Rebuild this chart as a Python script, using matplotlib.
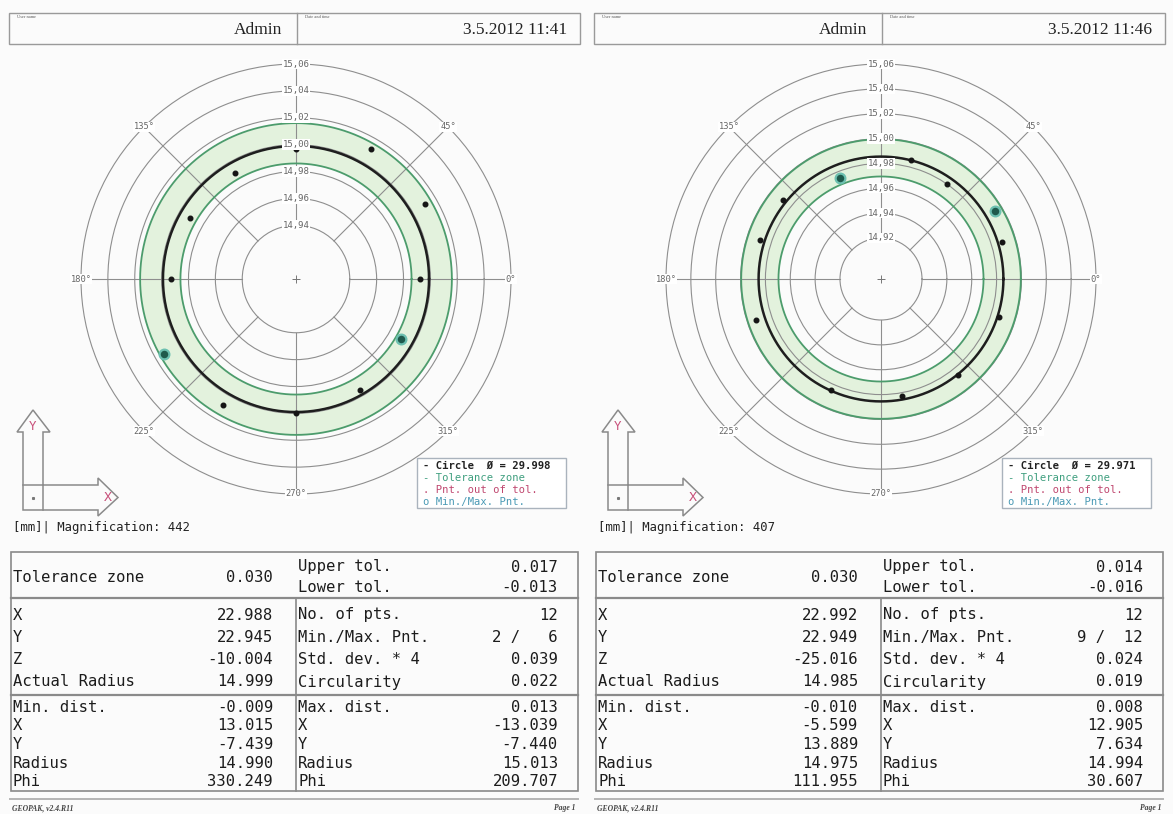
import numpy as np
import matplotlib
matplotlib.use("Agg")
import matplotlib.pyplot as plt
from matplotlib.patches import Polygon, Rectangle

# ---------------------------------------------------------------- data
# Report 1 (left sheet)
user_1 = "Admin"
stamp_1 = "3.5.2012 11:41"
magnification_1 = 442
diameter_1 = 29.998
tol_zone_1 = "0.030"
upper_tol_1 = 0.017
lower_tol_1 = -0.013
ring_values_1 = [14.94, 14.96, 14.98, 15.00, 15.02, 15.04, 15.06]
r_center_1 = 14.90
# measured points, numbered clockwise from 0 deg
pt_angle_1 = [0, 330.249, 300, 270, 240, 209.707, 180, 150, 120, 90, 60, 30]
pt_radius_1 = [14.992, 14.990, 14.995, 15.000, 15.008, 15.013,
               14.993, 14.991, 14.991, 14.997, 15.012, 15.011]
min_pnt_1 = 2
max_pnt_1 = 6
center_values_1 = ["22.988", "22.945", "-10.004", "14.999"]
stats_values_1 = ["12", "0.039", "0.022"]
min_block_1 = ["-0.009", "13.015", "-7.439"]
max_block_1 = ["0.013", "-13.039", "-7.440"]

# Report 2 (right sheet)
user_2 = "Admin"
stamp_2 = "3.5.2012 11:46"
magnification_2 = 407
diameter_2 = 29.971
tol_zone_2 = "0.030"
upper_tol_2 = 0.014
lower_tol_2 = -0.016
ring_values_2 = [14.92, 14.94, 14.96, 14.98, 15.00, 15.02, 15.04, 15.06]
r_center_2 = 14.887
pt_angle_2 = [17, 342, 309, 280, 246, 198, 162, 141, 111.955, 76, 55, 30.607]
pt_radius_2 = [14.989, 14.987, 14.986, 14.983, 14.985, 14.993,
               14.989, 14.988, 14.975, 14.986, 14.980, 14.994]
min_pnt_2 = 9
max_pnt_2 = 12
center_values_2 = ["22.992", "22.949", "-25.016", "14.985"]
stats_values_2 = ["12", "0.024", "0.019"]
min_block_2 = ["-0.010", "-5.599", "13.889"]
max_block_2 = ["0.008", "12.905", "7.634"]

center_labels = ["X", "Y", "Z", "Actual Radius"]
stats_labels = ["No. of pts.", "Min./Max. Pnt.", "Std. dev. * 4", "Circularity"]
dist_labels = ["X", "Y", "Radius", "Phi"]
angle_labels = [0, 45, 135, 180, 225, 270, 315]

# ---------------------------------------------------------------- styling
W, H = 1173, 814
MONO = "DejaVu Sans Mono"
SERIF = "Liberation Serif"
GRID = "#8e8e8e"
BAND_FILL = "#e3f2dd"
BAND_EDGE = "#4c9c6c"
ICON = "#8a8a8a"
PINK = "#c8507a"

fig = plt.figure(figsize=(W / 100, H / 100), dpi=100)
fig.patch.set_facecolor("#fbfbfb")
page = fig.add_axes([0, 0, 1, 1])
page.set_xlim(0, W)
page.set_ylim(H, 0)
page.axis("off")


def polar_panel(cx, cy, r_center, rings, diameter, upper, lower,
                angles, radii, i_min, i_max):
    R = 215
    ax = fig.add_axes([(cx - R) / W, 1 - (cy + R) / H, 2 * R / W, 2 * R / H],
                      projection="polar")
    ax.set_facecolor("none")
    ax.set_ylim(r_center, rings[-1])
    ax.set_yticks(rings[:-1])
    ax.set_yticklabels([])
    ax.set_xticks([])
    ax.yaxis.grid(True, color=GRID, lw=0.8)
    ax.spines["polar"].set_color(GRID)
    ax.spines["polar"].set_linewidth(0.8)

    r_act = diameter / 2
    full = np.linspace(0, 2 * np.pi, 721)
    lo = np.full_like(full, r_act + lower)
    hi = np.full_like(full, r_act + upper)
    ax.fill_between(full, lo, hi, color=BAND_FILL, lw=0, zorder=1)
    ax.plot(full, lo, color=BAND_EDGE, lw=1.3, zorder=3)
    ax.plot(full, hi, color=BAND_EDGE, lw=1.3, zorder=3)
    ax.plot(full, np.full_like(full, r_act), color="#1e1e1e", lw=1.8, zorder=3)

    # spokes from the innermost ring to the rim
    for deg in range(0, 360, 45):
        t = np.deg2rad(deg)
        ax.plot([t, t], [rings[0], rings[-1]], color=GRID, lw=0.8,
                zorder=2, clip_on=False)
    ax.plot([0], [r_center], marker="+", ms=6, mew=0.7, color="#777777")

    th = np.deg2rad(angles)
    ax.plot(th, radii, "o", ms=3.3, color="#151515", zorder=4)
    for i in (i_min - 1, i_max - 1):
        ax.plot(th[i], radii[i], "o", ms=7, mfc="#1f5a4c", mec="#6cc0b0",
                mew=1.6, zorder=5)

    for v in rings:
        ax.text(np.pi / 2, v, f"{v:.2f}".replace(".", ","), ha="center",
                va="center", fontsize=6.5, family=MONO, color="#666666",
                zorder=6, bbox=dict(fc="white", ec="none", pad=0.5))
    for deg in angle_labels:
        ax.text(np.deg2rad(deg), rings[-1], f"{deg}°", ha="center",
                va="center", fontsize=6.3, family=MONO, color="#666666",
                zorder=6, bbox=dict(fc="white", ec="none", pad=0.5))
    return ax


def sheet(x0, user, stamp, mag, diameter, tol_zone, upper, lower, rings,
          r_center, angles, radii, i_min, i_max, cvals, svals, mins, maxs):
    # header
    page.add_patch(Rectangle((x0, 13), 571, 31, fill=False, ec="#9a9a9a", lw=1))
    page.plot([x0 + 288, x0 + 288], [13, 44], color="#9a9a9a", lw=1)
    page.text(x0 + 8, 16.5, "User name", fontsize=3.2, family=SERIF,
              color="#555555", va="center")
    page.text(x0 + 296, 16.5, "Date and time", fontsize=3.2, family=SERIF,
              color="#555555", va="center")
    page.text(x0 + 273, 30, user, fontsize=12.5, family=SERIF, ha="right",
              va="center", color="#222222")
    page.text(x0 + 558, 30, stamp, fontsize=12.5, family=SERIF, ha="right",
              va="center", color="#222222")

    # polar diagram
    polar_panel(x0 + 287, 279, r_center, rings, diameter, upper, lower,
                angles, radii, i_min, i_max)

    # coordinate icon
    bx, by = x0 + 14, 510
    outline = [(bx, by), (bx, by - 78), (bx - 6, by - 78), (bx + 10, by - 100),
               (bx + 27, by - 78), (bx + 20, by - 78), (bx + 20, by - 25),
               (bx + 75, by - 25), (bx + 75, by - 32), (bx + 95, by - 12.5),
               (bx + 75, by + 6), (bx + 75, by)]
    page.add_patch(Polygon(outline, closed=True, fill=False, ec=ICON, lw=1.1))
    page.plot([bx, bx + 20], [by - 25, by - 25], color=ICON, lw=1.1)
    page.plot([bx + 20, bx + 20], [by - 25, by], color=ICON, lw=1.1)
    page.plot([bx + 10], [by - 12.5], "s", ms=1.2, color="#777777")
    page.text(bx + 10, by - 83, "Y", fontsize=9, family=MONO, color=PINK,
              ha="center", va="center")
    page.text(bx + 85, by - 12.5, "X", fontsize=9.5, family=MONO, color=PINK,
              ha="center", va="center")
    page.text(x0 + 4, 528, f"[mm]| Magnification: {mag}", fontsize=8.8,
              family=MONO, color="#222222", va="center")

    # legend
    lx, ly = x0 + 408, 458
    page.add_patch(Rectangle((lx, ly), 149, 50, fc="white", ec="#aab3bd", lw=1))
    legend_rows = [(f"- Circle  Ø = {diameter:.3f}", "#222222"),
                   ("- Tolerance zone", "#3f9f7f"),
                   (". Pnt. out of tol.", "#c04870"),
                   ("o Min./Max. Pnt.", "#4a9ab5")]
    for k, (txt, col) in enumerate(legend_rows):
        page.text(lx + 6, ly + 7.5 + 12.3 * k, txt, fontsize=7.6, family=MONO,
                  color=col, va="center",
                  fontweight="bold" if k == 0 else "normal")

    # results table
    tx0, tdiv, tx1 = x0 + 2, x0 + 287, x0 + 569
    page.add_patch(Rectangle((tx0, 552), tx1 - tx0, 239, fill=False,
                             ec="#8a8a8a", lw=1.2))
    page.plot([tx0, tx1], [598, 598], color="#8a8a8a", lw=1.6)
    page.plot([tx0, tx1], [695, 695], color="#8a8a8a", lw=1.6)
    page.plot([tdiv, tdiv], [598, 791], color="#8a8a8a", lw=1.2)

    lab_x, val_x = tx0 + 2, tdiv - 23
    rlab_x, rval_x = tdiv + 2, tx1 - 20
    kw = dict(fontsize=11.2, family=MONO, color="#1c1c1c", va="center")

    page.text(lab_x, 577, "Tolerance zone", **kw)
    page.text(val_x, 577, tol_zone, ha="right", **kw)
    page.text(rlab_x, 567, "Upper tol.", **kw)
    page.text(rval_x, 567, f"{upper:.3f}", ha="right", **kw)
    page.text(rlab_x, 588, "Lower tol.", **kw)
    page.text(rval_x, 588, f"{lower:.3f}", ha="right", **kw)

    mid_rows = [615, 637.5, 660, 682]
    right_mid = [svals[0], f"{i_min} / {i_max:>3}", svals[1], svals[2]]
    for y, lab, val, slab, sval in zip(mid_rows, center_labels, cvals,
                                       stats_labels, right_mid):
        page.text(lab_x, y, lab, **kw)
        page.text(val_x, y, val, ha="right", **kw)
        page.text(rlab_x, y, slab, **kw)
        page.text(rval_x, y, sval, ha="right", **kw)

    low_rows = [707, 726, 744.5, 763, 781.5]
    a_min, r_min = angles[i_min - 1], radii[i_min - 1]
    a_max, r_max = angles[i_max - 1], radii[i_max - 1]
    min_vals = mins + [f"{r_min:.3f}", f"{a_min:.3f}"]
    max_vals = maxs + [f"{r_max:.3f}", f"{a_max:.3f}"]
    for y, lab_l, v_l, lab_r, v_r in zip(low_rows,
                                         ["Min. dist."] + dist_labels, min_vals,
                                         ["Max. dist."] + dist_labels, max_vals):
        page.text(lab_x, y, lab_l, **kw)
        page.text(val_x, y, v_l, ha="right", **kw)
        page.text(rlab_x, y, lab_r, **kw)
        page.text(rval_x, y, v_r, ha="right", **kw)

    # footer
    page.plot([x0 + 1, x0 + 569], [799, 799], color="#b5b5b5", lw=1.4)
    page.text(x0 + 3, 808, "GEOPAK, v2.4.R11", fontsize=5.5, family=SERIF,
              style="italic", fontweight="bold", color="#444444", va="center")
    page.text(x0 + 567, 808, "Page 1", fontsize=5.5, family=SERIF,
              style="italic", fontweight="bold", color="#444444", va="center",
              ha="right")


sheet(9, user_1, stamp_1, magnification_1, diameter_1, tol_zone_1,
      upper_tol_1, lower_tol_1, ring_values_1, r_center_1, pt_angle_1,
      pt_radius_1, min_pnt_1, max_pnt_1, center_values_1, stats_values_1,
      min_block_1, max_block_1)
sheet(594, user_2, stamp_2, magnification_2, diameter_2, tol_zone_2,
      upper_tol_2, lower_tol_2, ring_values_2, r_center_2, pt_angle_2,
      pt_radius_2, min_pnt_2, max_pnt_2, center_values_2, stats_values_2,
      min_block_2, max_block_2)

fig.savefig("out.png", dpi=100, facecolor=fig.get_facecolor())
